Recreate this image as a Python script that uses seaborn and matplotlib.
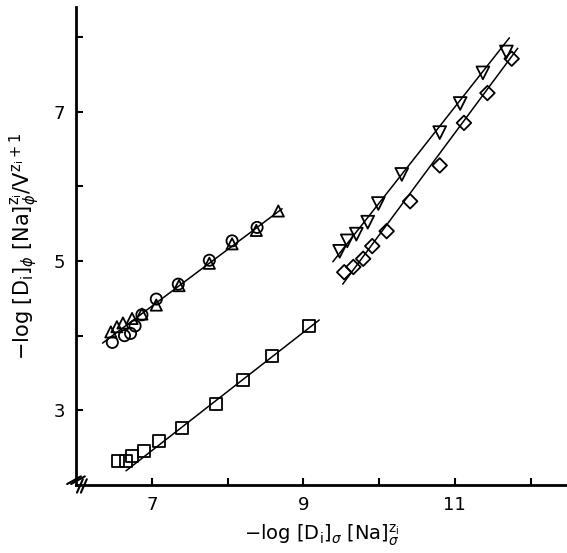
import numpy as np
import pandas as pd
import matplotlib
matplotlib.use("Agg")
import matplotlib.pyplot as plt
import seaborn as sns

# Data
circle_x = [6.48, 6.64, 6.72, 6.78, 6.87, 7.06, 7.35, 7.76, 8.06, 8.39]
circle_y = [3.91, 4.00, 4.03, 4.13, 4.28, 4.49, 4.69, 5.01, 5.27, 5.45]

tri_up_x = [6.46, 6.54, 6.62, 6.74, 6.87, 7.06, 7.36, 7.76, 8.06, 8.38, 8.67]
tri_up_y = [4.05, 4.12, 4.17, 4.23, 4.29, 4.41, 4.67, 4.97, 5.23, 5.41, 5.67]

square_x = [6.56, 6.66, 6.74, 6.90, 7.10, 7.40, 7.85, 8.20, 8.59, 9.07]
square_y = [2.32, 2.32, 2.39, 2.45, 2.59, 2.76, 3.08, 3.41, 3.73, 4.13]

tri_down_x = [9.48, 9.58, 9.70, 9.85, 9.99, 10.30, 10.80, 11.07, 11.37, 11.68]
tri_down_y = [5.13, 5.27, 5.36, 5.52, 5.77, 6.16, 6.72, 7.11, 7.52, 7.80]

diamond_x = [9.54, 9.66, 9.79, 9.91, 10.10, 10.41, 10.80, 11.12, 11.43, 11.75]
diamond_y = [4.85, 4.92, 5.03, 5.20, 5.40, 5.80, 6.28, 6.85, 7.25, 7.71]

# fitted lines (end points)
fit_upper_x = [6.35, 8.72]
fit_upper_y = [3.90, 5.70]
fit_square_x = [6.66, 9.21]
fit_square_y = [2.19, 4.21]
fit_tri_down_x = [9.39, 11.72]
fit_tri_down_y = [4.99, 7.99]
fit_diamond_x = [9.52, 11.83]
fit_diamond_y = [4.69, 7.85]

sns.set_style("ticks", {'text.color': 'black', 'xtick.color': 'black',
                        'ytick.color': 'black', 'axes.labelcolor': 'black',
                        'axes.edgecolor': 'black'})
plt.rcParams['font.family'] = ['DejaVu Sans']

fig = plt.figure(figsize=(5.67, 5.53), dpi=100)
ax = fig.add_axes([0.134, 0.123, 0.866, 0.864])

for fx, fy in [(fit_upper_x, fit_upper_y), (fit_square_x, fit_square_y),
               (fit_tri_down_x, fit_tri_down_y), (fit_diamond_x, fit_diamond_y)]:
    sns.lineplot(x=fx, y=fy, ax=ax, color='black', lw=1.1)

marker_kw = dict(facecolors='none', edgecolor='black', linewidth=1.3, ax=ax, zorder=3)
sns.scatterplot(x=circle_x, y=circle_y, marker='o', s=65, **marker_kw)
sns.scatterplot(x=tri_up_x, y=tri_up_y, marker='^', s=65, **marker_kw)
sns.scatterplot(x=square_x, y=square_y, marker='s', s=75, **marker_kw)
sns.scatterplot(x=tri_down_x, y=tri_down_y, marker='v', s=85, **marker_kw)
sns.scatterplot(x=diamond_x, y=diamond_y, marker='D', s=55, **marker_kw)

ax.set_xlim(6.0, 12.48)
ax.set_ylim(2.0, 8.4)
ax.set_xticks([7, 9, 11])
ax.set_xticks([8, 10, 12], minor=True)
ax.set_yticks([3, 5, 7])
ax.set_yticks([4, 6, 8], minor=True)
ax.tick_params(which='both', direction='in', length=5, width=1.5, labelsize=13, pad=8,
               colors='black')

sns.despine(ax=ax)
for side in ['left', 'bottom']:
    ax.spines[side].set_linewidth(2)

ax.set_xlabel(r'$-$log [D$_\mathregular{i}$]$_\sigma$ [Na]$_\sigma^{\mathregular{z_i}}$', fontsize=14, labelpad=6)
ax.set_ylabel(r'$-$log [D$_\mathregular{i}$]$_\phi$ [Na]$_\phi^{\mathregular{z_i}}$/V$^{\mathregular{z_i+1}}$', fontsize=15, labelpad=8)

# axis break marks
for dx in (-0.004, 0.004):
    ax.plot([-0.014 + dx, 0.014 + dx], [0.002, 0.018], transform=ax.transAxes,
            color='black', lw=1.5, clip_on=False)
    ax.plot([0.006 + dx, 0.018 + dx], [-0.016, 0.012], transform=ax.transAxes,
            color='black', lw=1.5, clip_on=False)

fig.savefig("out.png", dpi=100)
